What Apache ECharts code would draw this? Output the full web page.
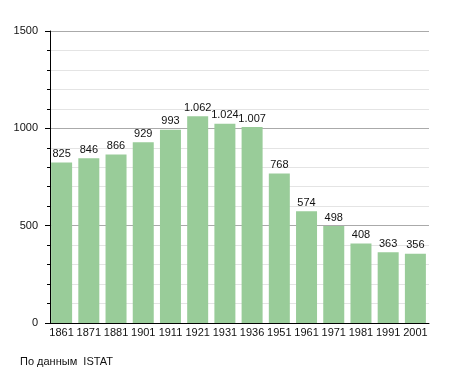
<!DOCTYPE html>
<html><head><meta charset="utf-8">
<script src="https://cdn.jsdelivr.net/npm/echarts@6/dist/echarts.min.js"></script>
<style>html,body{margin:0;padding:0;background:#fff}#c{width:455px;height:373px}</style>
</head><body><div id="c"></div>
<script>
var categories = ['1861','1871','1881','1901','1911','1921','1931','1936','1951','1961','1971','1981','1991','2001'];
var values = [825, 846, 866, 929, 993, 1062, 1024, 1007, 768, 574, 498, 408, 363, 356];
var yTicks = [0, 500, 1000, 1500];
var sourceText = 'По данным  ISTAT';

var chart = echarts.init(document.getElementById('c'), null, {renderer: 'canvas'});
chart.setOption({
  animation: false,
  textStyle: {fontFamily: 'Liberation Sans, Arial, sans-serif'},
  grid: {left: 48, right: 26, top: 31, bottom: 50},
  graphic: [{type: 'text', left: 20, top: 356, style: {text: sourceText, fontSize: 11, fill: '#111', fontFamily: 'Liberation Sans, Arial, sans-serif'}}],
  xAxis: {
    type: 'category', data: categories, boundaryGap: true,
    axisLine: {lineStyle: {color: '#000', width: 1}},
    axisTick: {show: false},
    axisLabel: {color: '#111', fontSize: 11, margin: 4, interval: 0}
  },
  yAxis: {
    type: 'value', min: yTicks[0], max: yTicks[yTicks.length - 1], interval: 500,
    offset: -2,
    axisLine: {show: true, lineStyle: {color: '#000', width: 1}},
    axisTick: {show: true, length: 5, lineStyle: {color: '#000'}},
    minorTick: {show: true, splitNumber: 5, length: 3, lineStyle: {color: '#000'}},
    axisLabel: {color: '#111', fontSize: 11, margin: 12, formatter: function (v) { return String(v); }},
    splitLine: {show: true, lineStyle: {color: '#aaa', width: 1}},
    minorSplitLine: {show: true, lineStyle: {color: '#e4e4e4', width: 1}}
  },
  series: [{
    type: 'bar', data: values, barWidth: 21,
    itemStyle: {color: '#99cc99'},
    label: {show: true, position: 'top', distance: 3, color: '#111', fontSize: 11,
      formatter: function (p) { return p.value >= 1000 ? Math.floor(p.value/1000) + '.' + String(p.value % 1000).padStart(3, '0') : String(p.value); }}
  }]
});
</script></body></html>
